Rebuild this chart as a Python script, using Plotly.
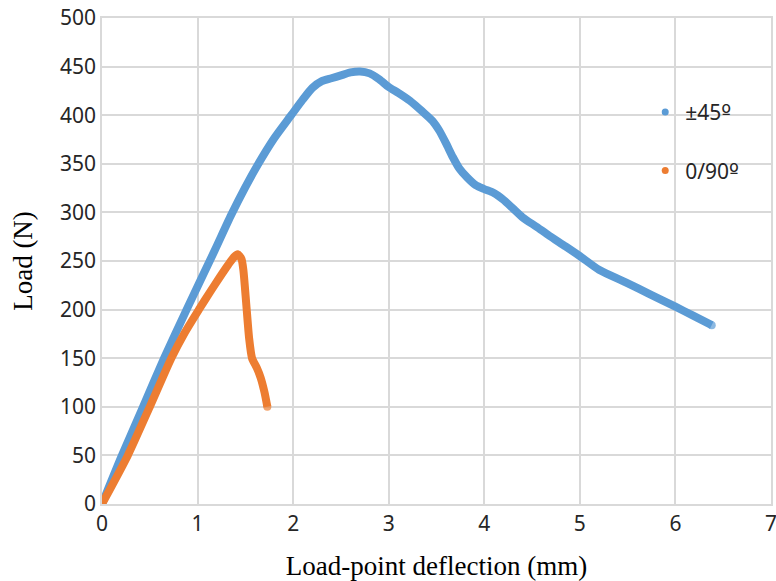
import plotly.graph_objects as go

# Load–deflection curves for the two ply layups
defl_45 = [0.0, 0.2, 0.425, 0.65, 0.9, 1.18, 1.35, 1.5, 1.63, 1.8, 1.98, 2.1, 2.2, 2.3,
           2.4, 2.5, 2.6, 2.7, 2.8, 2.9, 3.0, 3.1, 3.22, 3.35, 3.46, 3.53, 3.6, 3.67,
           3.74, 3.82, 3.91, 4.0, 4.1, 4.2, 4.3, 4.4, 4.55, 4.68, 4.85, 5.0, 5.2, 5.48,
           5.73, 6.0, 6.18, 6.38]
load_45 = [0, 48, 99, 150, 203, 261, 297, 326, 349, 376, 400, 416, 428, 435,
           438, 441, 444, 445, 443, 437, 429, 423, 415, 404, 394, 384, 371, 357,
           345, 336, 328, 324, 320, 313, 304, 295, 285, 276, 265, 255, 241, 228,
           216, 203, 194, 184]

defl_090 = [0.0, 0.27, 0.5, 0.725, 0.87, 1.02, 1.13, 1.23, 1.32, 1.38, 1.42, 1.46,
            1.48, 1.51, 1.54, 1.57, 1.62, 1.66, 1.70, 1.73]
load_090 = [0, 50, 100, 150, 177, 201, 218, 233, 246, 254, 257, 252,
            240, 205, 170, 150, 140, 130, 115, 100]

ordinal = "<span style='font-family:DejaVu Sans'>º</span>"
names = ["±45" + ordinal, "0/90" + ordinal]
colors = ["#5B9BD5", "#ED7D31"]

fig = go.Figure()
for i, (xs, ys) in enumerate([(defl_45, load_45), (defl_090, load_090)]):
    # round off both ends of the thick curve with a dot
    sizes = [0] * len(xs)
    sizes[0] = sizes[-1] = 8
    fig.add_trace(go.Scatter(
        x=xs, y=ys, mode="lines+markers",
        line=dict(color=colors[i], width=8, shape="spline", smoothing=0.6),
        marker=dict(color=colors[i], size=sizes, line=dict(width=0)),
        showlegend=False, hoverinfo="skip"))
for i in range(2):
    fig.add_trace(go.Scatter(
        x=[None], y=[None], mode="markers", name=names[i], legendgroup=str(i),
        marker=dict(color=colors[i], size=7)))

tick_font = dict(family="Noto Sans", size=21, color="#262626")
title_font = dict(family="Liberation Serif", size=27, color="#000000")

fig.update_layout(
    width=776, height=581,
    paper_bgcolor="white", plot_bgcolor="white",
    margin=dict(l=102, r=5, t=18, b=77),
    xaxis=dict(range=[0, 7], dtick=1, showgrid=True, gridcolor="#D9D9D9", gridwidth=1.5,
               zeroline=False, tickfont=tick_font, ticks="", automargin=False,
               ticklabeloverflow="allow",
               title=dict(text="Load-point deflection (mm)", font=title_font, standoff=20)),
    yaxis=dict(range=[0, 500], dtick=50, showgrid=True, gridcolor="#D9D9D9", gridwidth=1.5,
               zeroline=False, tickfont=tick_font, ticks="", automargin=False,
               ticklabeloverflow="allow",
               title=dict(text="Load (N)", font=title_font, standoff=20)),
    legend=dict(x=0.812, y=0.746, xanchor="left", yanchor="middle", bgcolor="rgba(0,0,0,0)",
                font=dict(family="Noto Sans", size=21, color="#262626"),
                traceorder="grouped", tracegroupgap=28),
)
fig.update_xaxes(showline=True, linecolor="#D9D9D9", linewidth=1.5, mirror=True)
fig.update_yaxes(showline=True, linecolor="#D9D9D9", linewidth=1.5, mirror=True)

fig.write_html("out.html")
